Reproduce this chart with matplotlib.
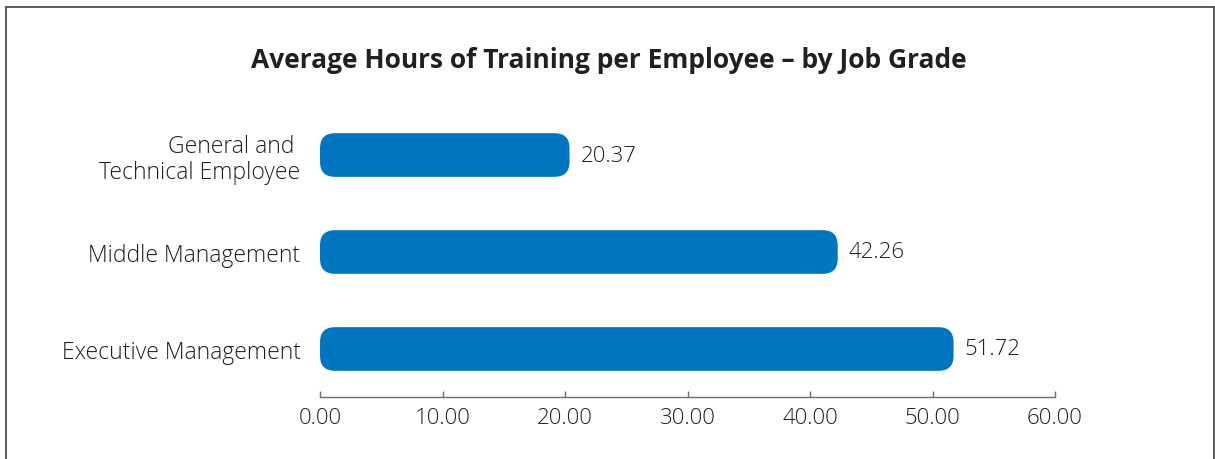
import matplotlib
matplotlib.use("Agg")
import matplotlib.pyplot as plt
from matplotlib.patches import FancyBboxPatch
from matplotlib.lines import Line2D

# Data
categories = ["Executive Management", "Middle Management", "General and \nTechnical Employee"]
hours = [51.72, 42.26, 20.37]
x_ticks = [0, 10, 20, 30, 40, 50, 60]
title = "Average Hours of Training per Employee \u2013 by Job Grade"

BAR_COLOR = "#0076c0"
TEXT_COLOR = "#231f20"
AXIS_COLOR = "#6d6e71"
LABEL_FONT = "Open Sans"

W, H, DPI = 1215, 460, 100
fig = plt.figure(figsize=(W / DPI, H / DPI), dpi=DPI)

ax_left, ax_right = 320, 1055
ax_bottom_px, ax_top_px = 398, 108
ax = fig.add_axes([ax_left / W, 1 - ax_bottom_px / H,
                   (ax_right - ax_left) / W, (ax_bottom_px - ax_top_px) / H])

ylim = (-0.495, 2.495)
ax.set_xlim(0, 60)
ax.set_ylim(*ylim)

# Pixel scale of data units, used to keep corner rounding circular
sx = (ax_right - ax_left) / 60.0
sy = (ax_bottom_px - ax_top_px) / (ylim[1] - ylim[0])
radius_px = 15
bar_h = 0.45

positions = list(range(len(categories)))
for y, v in zip(positions, hours):
    patch = FancyBboxPatch((0, y - bar_h / 2), v, bar_h,
                           boxstyle=f"round,pad=0,rounding_size={radius_px / sx}",
                           mutation_aspect=sx / sy,
                           facecolor=BAR_COLOR, edgecolor="none")
    ax.add_patch(patch)
    ax.text(v + 11 / sx, y, f"{v:.2f}", va="center", ha="left",
            fontsize=16, color=TEXT_COLOR, family=LABEL_FONT, fontweight="light")

ax.set_yticks(positions)
ax.set_yticklabels(categories, fontsize=16.5, color=TEXT_COLOR,
                   family=LABEL_FONT, fontweight="light", multialignment="right",
                   linespacing=1.1)
ax.tick_params(axis="y", length=0, pad=14)

ax.set_xticks(x_ticks)
ax.set_xticklabels([f"{t:.2f}" for t in x_ticks], fontsize=16, color=TEXT_COLOR,
                   family=LABEL_FONT, fontweight="light")
ax.tick_params(axis="x", direction="in", length=4.5, width=1, color=AXIS_COLOR, pad=7)

for side in ("top", "right", "left"):
    ax.spines[side].set_visible(False)
ax.spines["bottom"].set_color(AXIS_COLOR)
ax.spines["bottom"].set_linewidth(1)

fig.text(609 / W, 1 - 60 / H, title, ha="center", va="center",
         fontsize=19, fontweight="bold", color=TEXT_COLOR, family=LABEL_FONT)

# Frame around the figure (open at the bottom)
fx = lambda px: px / W
fy = lambda py: 1 - py / H
frame_kw = dict(color="#4d4d4d", linewidth=1.3, transform=fig.transFigure)
fig.add_artist(Line2D([fx(5.5), fx(5.5)], [fy(7.5), 0], **frame_kw))
fig.add_artist(Line2D([fx(5.5), fx(1213.5)], [fy(7.5), fy(7.5)], **frame_kw))
fig.add_artist(Line2D([fx(1213.5), fx(1213.5)], [fy(7.5), 0], **frame_kw))

fig.savefig("out.png", dpi=DPI)
